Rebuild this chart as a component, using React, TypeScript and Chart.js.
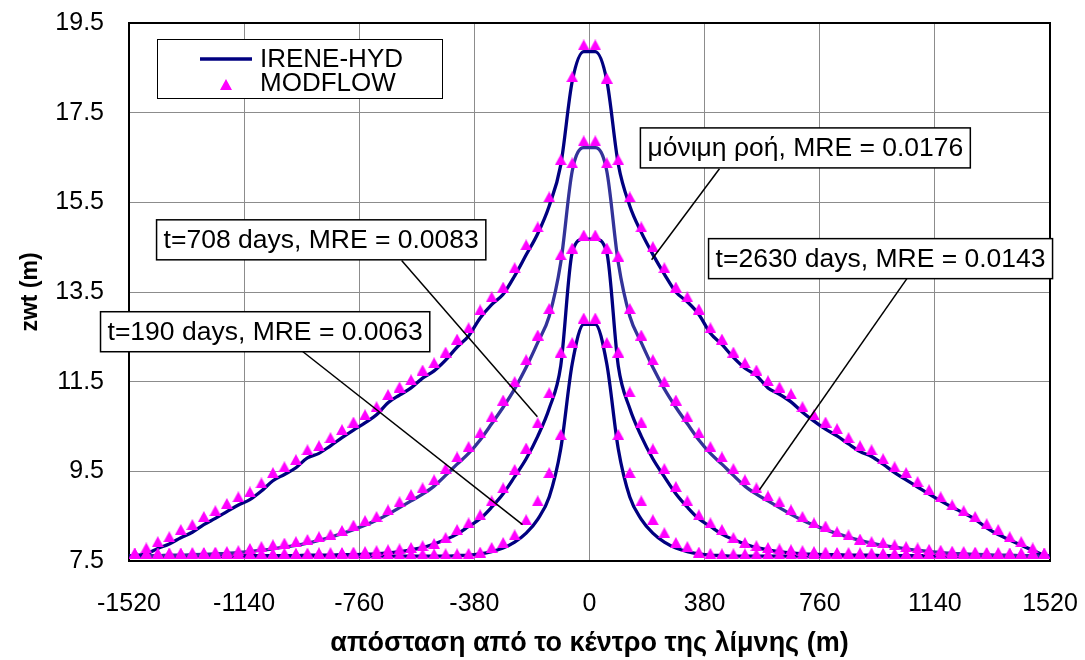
import { useEffect, useRef } from 'react';
import { Chart, registerables } from 'chart.js';

Chart.register(...registerables);

// x positions of the MODFLOW cell centres (m)
const xNodes = [
  -1501, -1463, -1425, -1387, -1349, -1311, -1273, -1235, -1197, -1159,
  -1121, -1083, -1045, -1007, -969, -931, -893, -855, -817, -779,
  -741, -703, -665, -627, -589, -551, -513, -475, -437, -399,
  -361, -323, -285, -247, -209, -171, -133, -95, -57, -19,
  19, 57, 95, 133, 171, 209, 247, 285, 323, 361,
  399, 437, 475, 513, 551, 589, 627, 665, 703, 741,
  779, 817, 855, 893, 931, 969, 1007, 1045, 1083, 1121,
  1159, 1197, 1235, 1273, 1311, 1349, 1387, 1425, 1463, 1501,
];

// x positions of the IRENE-HYD solution (m)
const xIrene = [
  -1520,
  -1501, -1463, -1425, -1387, -1349, -1311, -1273, -1235, -1197, -1159,
  -1121, -1083, -1045, -1007, -969, -931, -893, -855, -817, -779,
  -741, -703, -665, -627, -589, -551, -513, -475, -437, -399,
  -361, -323, -285, -247, -209, -171, -133, -95, -57, -19,
  19, 57, 95, 133, 171, 209, 247, 285, 323, 361,
  399, 437, 475, 513, 551, 589, 627, 665, 703, 741,
  779, 817, 855, 893, 931, 969, 1007, 1045, 1083, 1121,
  1159, 1197, 1235, 1273, 1311, 1349, 1387, 1425, 1463, 1501,
  1520,
];

// MODFLOW (triangles)
const modflowSteady = [
  7.66, 7.79, 7.93, 8.04, 8.20, 8.31, 8.49, 8.62, 8.78, 8.93,
  9.04, 9.24, 9.47, 9.60, 9.76, 9.98, 10.07, 10.25, 10.43, 10.60,
  10.76, 10.94, 11.21, 11.38, 11.54, 11.76, 11.92, 12.16, 12.45, 12.70,
  13.10, 13.39, 13.61, 14.04, 14.55, 14.95, 15.62, 16.45, 18.30, 19.01,
  19.01, 18.27, 16.45, 15.62, 14.95, 14.51, 14.04, 13.61, 13.39, 13.12,
  12.70, 12.45, 12.16, 11.92, 11.76, 11.52, 11.38, 11.23, 10.94, 10.76,
  10.60, 10.45, 10.25, 10.07, 9.98, 9.78, 9.60, 9.47, 9.27, 9.09,
  8.93, 8.75, 8.62, 8.49, 8.33, 8.20, 8.04, 7.93, 7.79, 7.66,
];
const modflow2630 = [
  7.66, 7.66, 7.66, 7.67, 7.67, 7.68, 7.69, 7.70, 7.71, 7.73,
  7.78, 7.82, 7.86, 7.90, 7.93, 7.98, 8.04, 8.09, 8.18, 8.30,
  8.40, 8.49, 8.64, 8.82, 8.98, 9.13, 9.31, 9.56, 9.82, 10.05,
  10.36, 10.72, 11.09, 11.50, 11.99, 12.54, 13.13, 14.33, 16.38, 16.87,
  16.87, 16.38, 14.30, 13.13, 12.54, 11.99, 11.50, 11.09, 10.72, 10.36,
  10.05, 9.82, 9.56, 9.31, 9.13, 8.95, 8.82, 8.64, 8.49, 8.35,
  8.28, 8.15, 8.08, 7.99, 7.93, 7.91, 7.86, 7.82, 7.79, 7.76,
  7.74, 7.72, 7.71, 7.70, 7.69, 7.68, 7.67, 7.66, 7.66, 7.66,
];
const modflow708 = [
  7.66, 7.66, 7.66, 7.66, 7.66, 7.66, 7.66, 7.66, 7.66, 7.66,
  7.66, 7.66, 7.66, 7.66, 7.67, 7.67, 7.68, 7.68, 7.69, 7.70,
  7.71, 7.73, 7.75, 7.77, 7.80, 7.84, 7.89, 8.02, 8.20, 8.35,
  8.53, 8.84, 9.13, 9.54, 10.02, 10.58, 11.25, 12.16, 14.48, 14.77,
  14.77, 14.48, 12.16, 11.27, 10.60, 10.00, 9.56, 9.16, 8.84, 8.53,
  8.35, 8.20, 8.02, 7.91, 7.84, 7.80, 7.77, 7.75, 7.73, 7.71,
  7.70, 7.69, 7.68, 7.68, 7.67, 7.67, 7.66, 7.66, 7.66, 7.66,
  7.66, 7.66, 7.66, 7.66, 7.66, 7.66, 7.66, 7.66, 7.66, 7.66,
];
const modflow190 = [
  7.66, 7.66, 7.66, 7.66, 7.66, 7.66, 7.66, 7.66, 7.66, 7.66,
  7.66, 7.66, 7.66, 7.66, 7.66, 7.66, 7.66, 7.66, 7.66, 7.66,
  7.66, 7.66, 7.66, 7.66, 7.66, 7.66, 7.66, 7.66, 7.66, 7.67,
  7.70, 7.80, 7.91, 8.08, 8.42, 8.84, 9.47, 10.32, 12.37, 12.92,
  12.92, 12.37, 10.32, 9.47, 8.84, 8.42, 8.13, 7.91, 7.82, 7.70,
  7.67, 7.66, 7.66, 7.66, 7.66, 7.66, 7.66, 7.66, 7.66, 7.66,
  7.66, 7.66, 7.66, 7.66, 7.66, 7.66, 7.66, 7.66, 7.66, 7.66,
  7.66, 7.66, 7.66, 7.66, 7.66, 7.66, 7.66, 7.66, 7.66, 7.66,
];

// IRENE-HYD (lines)
const ireneSteady = [
  7.60,
  7.62, 7.66, 7.78, 7.88, 8.02, 8.14, 8.31, 8.45, 8.60, 8.75,
  8.87, 9.06, 9.29, 9.43, 9.58, 9.80, 9.90, 10.07, 10.25, 10.42,
  10.58, 10.76, 11.03, 11.20, 11.36, 11.58, 11.74, 11.98, 12.27, 12.52,
  12.92, 13.22, 13.45, 13.86, 14.33, 14.80, 15.42, 16.33, 18.20, 18.86,
  18.86, 18.22, 16.35, 15.42, 14.83, 14.34, 13.90, 13.50, 13.28, 13.00,
  12.58, 12.33, 12.04, 11.80, 11.64, 11.36, 11.22, 11.05, 10.82, 10.62,
  10.44, 10.29, 10.11, 9.94, 9.83, 9.66, 9.47, 9.31, 9.15, 8.99,
  8.84, 8.70, 8.57, 8.43, 8.24, 8.09, 7.97, 7.85, 7.74, 7.63,
  7.60,
];
const irene2630 = [
  7.61,
  7.61, 7.62, 7.62, 7.63, 7.63, 7.64, 7.65, 7.66, 7.67, 7.69,
  7.71, 7.74, 7.77, 7.81, 7.85, 7.90, 7.96, 8.03, 8.11, 8.20,
  8.30, 8.41, 8.54, 8.69, 8.84, 8.99, 9.17, 9.41, 9.66, 9.90,
  10.20, 10.56, 10.93, 11.34, 11.82, 12.37, 12.96, 14.15, 16.20, 16.72,
  16.72, 16.20, 14.15, 12.96, 12.37, 11.82, 11.34, 10.93, 10.56, 10.20,
  9.90, 9.66, 9.41, 9.17, 8.99, 8.84, 8.69, 8.54, 8.41, 8.30,
  8.20, 8.11, 8.03, 7.96, 7.90, 7.85, 7.81, 7.77, 7.74, 7.71,
  7.69, 7.67, 7.66, 7.65, 7.64, 7.63, 7.63, 7.62, 7.62, 7.61,
  7.61,
];
const irene708 = [
  7.61,
  7.61, 7.61, 7.61, 7.61, 7.61, 7.61, 7.61, 7.61, 7.61, 7.61,
  7.62, 7.62, 7.62, 7.62, 7.62, 7.63, 7.63, 7.63, 7.64, 7.64,
  7.65, 7.66, 7.68, 7.71, 7.75, 7.80, 7.88, 7.98, 8.10, 8.27,
  8.44, 8.70, 9.00, 9.38, 9.78, 10.28, 10.90, 11.85, 14.38, 14.68,
  14.68, 14.38, 11.85, 10.90, 10.28, 9.78, 9.38, 9.00, 8.70, 8.44,
  8.27, 8.10, 7.98, 7.88, 7.80, 7.75, 7.71, 7.68, 7.66, 7.65,
  7.64, 7.64, 7.63, 7.63, 7.63, 7.62, 7.62, 7.62, 7.62, 7.62,
  7.61, 7.61, 7.61, 7.61, 7.61, 7.61, 7.61, 7.61, 7.61, 7.61,
  7.61,
];
const irene190 = [
  7.61,
  7.61, 7.61, 7.61, 7.61, 7.61, 7.61, 7.61, 7.61, 7.61, 7.61,
  7.61, 7.61, 7.61, 7.61, 7.61, 7.61, 7.61, 7.61, 7.61, 7.61,
  7.61, 7.61, 7.61, 7.61, 7.61, 7.61, 7.61, 7.61, 7.62, 7.63,
  7.66, 7.71, 7.79, 7.92, 8.12, 8.43, 8.93, 10.00, 11.90, 12.78,
  12.78, 11.90, 10.00, 8.93, 8.43, 8.12, 7.92, 7.79, 7.71, 7.66,
  7.63, 7.62, 7.61, 7.61, 7.61, 7.61, 7.61, 7.61, 7.61, 7.61,
  7.61, 7.61, 7.61, 7.61, 7.61, 7.61, 7.61, 7.61, 7.61, 7.61,
  7.61, 7.61, 7.61, 7.61, 7.61, 7.61, 7.61, 7.61, 7.61, 7.61,
  7.61,
];

const legendLabels = ['IRENE-HYD', 'MODFLOW'];

// annotation texts with box anchor (data units) and leader line (data units)
const noteTexts = [
  'μόνιμη ροή, MRE = 0.0176',
  't=2630 days, MRE = 0.0143',
  't=708 days, MRE = 0.0083',
  't=190 days, MRE = 0.0063',
];
const noteBoxX = [168, 393, -1429, -1614];
const noteBoxY = [17.16, 14.69, 15.11, 13.06];
const noteFromX = [429, 1050, -620, -950];
const noteFromY = [16.25, 13.82, 14.2, 12.19];
const noteToX = [205, 561, -172, -221];
const noteToY = [14.22, 9.09, 10.72, 8.31];

const NAVY = '#000080';
const SLATE = '#333399';
const MAGENTA = '#FF00FF';
const FONT = "'Liberation Sans', Arial, sans-serif";

function pts(xs: number[], ys: number[]) {
  return xs.map((x, i) => ({ x, y: ys[i] }));
}

// Excel-like triangle marker, centred on its bounding box
function makeTriangle(): HTMLCanvasElement {
  const c = document.createElement('canvas');
  c.width = 12;
  c.height = 11;
  const g = c.getContext('2d')!;
  g.fillStyle = MAGENTA;
  g.beginPath();
  g.moveTo(6, 0);
  g.lineTo(12, 11);
  g.lineTo(0, 11);
  g.closePath();
  g.fill();
  return c;
}

const framePlugin = {
  id: 'frame',
  beforeDatasetsDraw(chart: any) {
    const { ctx, chartArea } = chart;
    ctx.save();
    ctx.strokeStyle = '#000';
    ctx.lineWidth = 2;
    ctx.strokeRect(chartArea.left, chartArea.top, chartArea.right - chartArea.left, chartArea.bottom - chartArea.top);
    ctx.restore();
  },
};

function makeNotesPlugin(tri: HTMLCanvasElement) {
  return {
    id: 'notes',
    afterDraw(chart: any) {
      const { ctx, chartArea } = chart;
      const xs = chart.scales.x;
      const ys = chart.scales.y;
      ctx.save();
      // leader lines
      ctx.strokeStyle = '#000';
      ctx.lineWidth = 1.5;
      for (let i = 0; i < noteTexts.length; i++) {
        ctx.beginPath();
        ctx.moveTo(xs.getPixelForValue(noteFromX[i]), ys.getPixelForValue(noteFromY[i]));
        ctx.lineTo(xs.getPixelForValue(noteToX[i]), ys.getPixelForValue(noteToY[i]));
        ctx.stroke();
      }
      // boxes
      ctx.font = `26.5px ${FONT}`;
      ctx.textBaseline = 'middle';
      ctx.textAlign = 'left';
      for (let i = 0; i < noteTexts.length; i++) {
        const bx = xs.getPixelForValue(noteBoxX[i]);
        const by = ys.getPixelForValue(noteBoxY[i]);
        const w = ctx.measureText(noteTexts[i]).width + 14;
        const h = 40;
        ctx.fillStyle = '#fff';
        ctx.fillRect(bx, by, w, h);
        ctx.lineWidth = 1.5;
        ctx.strokeStyle = '#000';
        ctx.strokeRect(bx, by, w, h);
        ctx.fillStyle = '#000';
        ctx.fillText(noteTexts[i], bx + 7, by + h / 2 + 1);
      }
      // legend
      ctx.font = `26px ${FONT}`;
      const lx = chartArea.left + 28;
      const ly = chartArea.top + 16;
      ctx.fillStyle = '#fff';
      ctx.fillRect(lx, ly, 285, 59);
      ctx.lineWidth = 1;
      ctx.strokeStyle = '#000';
      ctx.strokeRect(lx + 0.5, ly + 0.5, 285, 59);
      ctx.strokeStyle = NAVY;
      ctx.lineWidth = 3.3;
      ctx.beginPath();
      ctx.moveTo(lx + 43, ly + 20);
      ctx.lineTo(lx + 95, ly + 20);
      ctx.stroke();
      ctx.drawImage(tri, Math.round(lx + 69 - tri.width / 2), Math.round(ly + 45 - tri.height / 2));
      ctx.fillStyle = '#000';
      ctx.fillText(legendLabels[0], lx + 103, ly + 21);
      ctx.fillText(legendLabels[1], lx + 103, ly + 45);
      ctx.restore();
    },
  };
}

function zeroPadding(s: any) {
  s.paddingTop = 0;
  s.paddingBottom = 0;
  s.paddingLeft = 0;
  s.paddingRight = 0;
}

export default function App() {
  const ref = useRef<HTMLCanvasElement>(null);
  useEffect(() => {
    const canvas = ref.current;
    if (!canvas) return;
    const tri = makeTriangle();
    const markerDs = (ys: number[]) => ({
      type: 'scatter' as const,
      data: pts(xNodes, ys),
      showLine: false,
      pointStyle: tri,
      pointRadius: 6,
      order: 0,
      clip: false as any,
    });
    const lineDs = (ys: number[], color: string) => ({
      type: 'line' as const,
      data: pts(xIrene, ys),
      borderColor: color,
      borderWidth: 3.3,
      pointRadius: 0,
      fill: false,
      cubicInterpolationMode: 'monotone' as const,
      order: 1,
    });
    const chart = new Chart(canvas, {
      type: 'line',
      data: {
        datasets: [
          markerDs(modflowSteady),
          markerDs(modflow2630),
          markerDs(modflow708),
          markerDs(modflow190),
          lineDs(ireneSteady, NAVY),
          lineDs(irene2630, SLATE),
          lineDs(irene708, NAVY),
          lineDs(irene190, NAVY),
        ] as any,
      },
      options: {
        animation: false,
        responsive: false,
        devicePixelRatio: 1,
        layout: { autoPadding: false, padding: { top: 23, right: 35, bottom: 0, left: 0 } },
        plugins: { legend: { display: false }, tooltip: { enabled: false } },
        scales: {
          x: {
            type: 'linear',
            min: -1520,
            max: 1520,
            ticks: {
              stepSize: 380,
              color: '#000',
              padding: 28,
              font: { family: FONT, size: 25 },
              maxRotation: 0,
              callback: (v: any) => String(Math.round(Number(v))),
            },
            grid: { color: '#8c8c8c', lineWidth: 1, drawTicks: false },
            border: { display: false },
            title: {
              display: true,
              text: 'απόσταση από το κέντρο της λίμνης (m)',
              color: '#000',
              font: { family: FONT, size: 27, weight: 'bold' },
              padding: { top: 0, bottom: 0 },
            },
            afterFit: (s: any) => {
              s.height = 99;
              zeroPadding(s);
            },
          },
          y: {
            type: 'linear',
            min: 7.5,
            max: 19.5,
            ticks: {
              stepSize: 2,
              color: '#000',
              padding: 25,
              font: { family: FONT, size: 25 },
              callback: (v: any) => Number(v).toFixed(1),
            },
            grid: { color: '#8c8c8c', lineWidth: 1, drawTicks: false },
            border: { display: false },
            title: {
              display: true,
              text: 'zwt (m)',
              color: '#000',
              font: { family: FONT, size: 23, weight: 'bold' },
              padding: { top: 17, bottom: 0 },
            },
            afterFit: (s: any) => {
              s.width = 129;
              zeroPadding(s);
            },
          },
        },
      },
      plugins: [framePlugin, makeNotesPlugin(tri)],
    });
    return () => chart.destroy();
  }, []);
  return (
    <div style={{ position: 'fixed', left: 0, top: 0, width: 1085, height: 660, background: '#fff' }}>
      <canvas ref={ref} width={1085} height={660} style={{ display: 'block' }} />
    </div>
  );
}
